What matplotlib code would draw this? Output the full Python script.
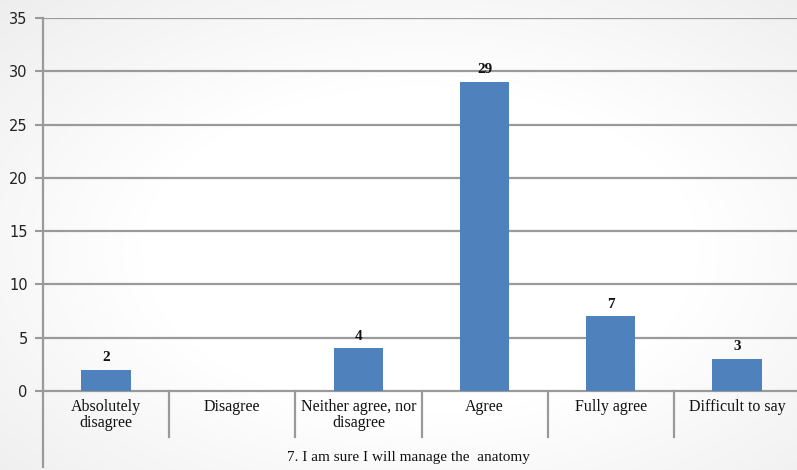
import matplotlib
matplotlib.use("Agg")
import matplotlib.pyplot as plt
import numpy as np
from matplotlib.lines import Line2D
import matplotlib.transforms as mtransforms

categories = ["Absolutely\ndisagree", "Disagree", "Neither agree, nor\ndisagree", "Agree", "Fully agree", "Difficult to say"]
values = [2, 0, 4, 29, 7, 3]
value_labels = ["2", "", "4", "29", "7", "3"]
yticks = [0, 5, 10, 15, 20, 25, 30, 35]
group_label = "7. I am sure I will manage the  anatomy"

W, H = 797, 470
fig = plt.figure(figsize=(W / 100, H / 100), dpi=100)

# light background, slightly gray toward corners
bg = fig.add_axes([0, 0, 1, 1], zorder=-10)
yy, xx = np.mgrid[0:H, 0:W]
d = np.sqrt(((xx - 420) / W) ** 2 + ((yy - 250) / H) ** 2)
shade = 1.0 - 0.06 * np.clip(d - 0.35, 0, None) / 0.35
bg.imshow(np.dstack([shade, shade, shade]), extent=[0, 1, 0, 1], aspect="auto", vmin=0, vmax=1)
bg.axis("off")

left, right, top, bottom = 43, 800, 18, 391
ax = fig.add_axes([left / W, (H - bottom) / H, (right - left) / W, (bottom - top) / H])
ax.patch.set_alpha(0)

x = np.arange(len(categories))
ax.bar(x, values, width=0.39, color="#4f81bd", zorder=3)
ax.set_xlim(-0.5, len(categories) - 0.5)
ax.set_ylim(0, 35)
ax.set_yticks(yticks)
ax.set_yticklabels([str(t) for t in yticks], fontsize=10.5, color="#222222", family="DejaVu Sans")
ax.tick_params(axis="y", length=6, width=1.5, color="#999999", pad=5)
ax.set_xticks([])

for t in yticks[1:]:
    ax.axhline(t, color="#9a9a9a", linewidth=1.6, zorder=1)

for s in ["top", "right"]:
    ax.spines[s].set_visible(False)
ax.spines["bottom"].set_color("#9a9a9a")
ax.spines["bottom"].set_linewidth(1.6)
ax.spines["left"].set_color("#9a9a9a")
ax.spines["left"].set_linewidth(1.6)

for xi, v, lab in zip(x, values, value_labels):
    if lab:
        ax.annotate(lab, (xi, v), xytext=(0, 4), textcoords="offset points", ha="center", va="bottom",
                    fontsize=11, fontweight="bold", family="Liberation Serif", color="#111111")

# category labels
for xi, c in zip(x, categories):
    ax.annotate(c, (xi, 0), xytext=(0, -6), textcoords="offset points", ha="center", va="top",
                fontsize=11.5, family="Liberation Serif", color="#111111", linespacing=0.95,
                annotation_clip=False)

# separators below axis
trans = mtransforms.blended_transform_factory(ax.transData, fig.transFigure)
for xs in np.arange(0.5, len(categories) - 0.5, 1.0):
    fig.add_artist(Line2D([xs, xs], [(H - bottom) / H, (H - 437) / H], transform=trans,
                          color="#9a9a9a", linewidth=1.6))
# left axis extension
fig.add_artist(Line2D([left / W, left / W], [(H - bottom) / H, (H - 467) / H], transform=fig.transFigure,
                      color="#9a9a9a", linewidth=1.6))

fig.text(408 / W, (H - 458) / H, group_label, ha="center", va="center", fontsize=11,
         family="Liberation Serif", color="#111111")

fig.savefig("out.png", dpi=100)
